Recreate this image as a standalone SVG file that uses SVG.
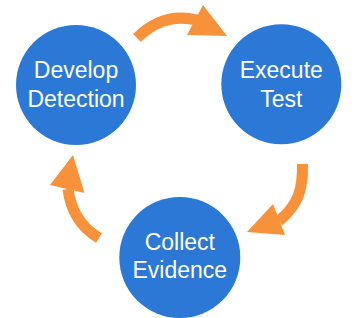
<svg xmlns="http://www.w3.org/2000/svg" width="358" height="318" viewBox="0 0 358 318">
  <style>
    .node { fill: #2B78D6; }
    .label { fill: #ffffff; font-family: "Liberation Sans", Arial, sans-serif; font-size: 23px; text-anchor: middle; }
    .band { fill: none; stroke: #F7913A; stroke-width: 11; }
    .head { fill: #F7913A; }
  </style>
  <rect width="358" height="318" fill="#ffffff"/>
  <g id="connectors">
    <g id="arrow-top">
      <path class="band" d="M137,38 Q163,12 197,20"/>
      <polygon class="head" points="203,5 227,36 187,35"/>
    </g>
    <g id="arrow-right">
      <path class="band" d="M302.5,164 C303,190 298,205 279,221"/>
      <polygon class="head" points="273,204 285,235 247,232"/>
    </g>
    <g id="arrow-left">
      <path class="band" d="M68,189 Q72,222 99,238"/>
      <polygon class="head" points="73,155 50,185 84.5,193"/>
    </g>
  </g>
  <g id="develop-detection">
    <circle class="node" cx="76" cy="85" r="60"/>
    <text class="label" x="76" y="78">Develop</text>
    <text class="label" x="76" y="107">Detection</text>
  </g>
  <g id="execute-test">
    <circle class="node" cx="281.3" cy="84.3" r="60"/>
    <text class="label" x="281.3" y="78">Execute</text>
    <text class="label" x="281.3" y="106.5">Test</text>
  </g>
  <g id="collect-evidence">
    <circle class="node" cx="179.8" cy="257.5" r="60.5"/>
    <text class="label" x="179.8" y="250">Collect</text>
    <text class="label" x="179.8" y="278">Evidence</text>
  </g>
</svg>
